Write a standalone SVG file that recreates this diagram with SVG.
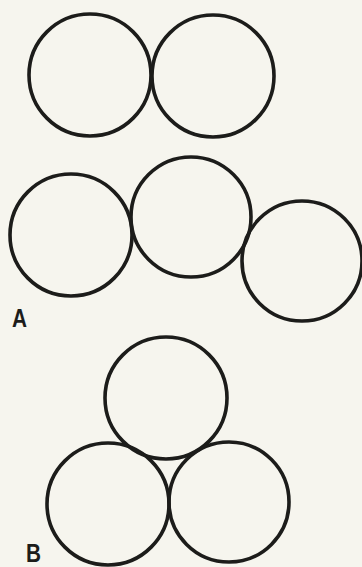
<svg xmlns="http://www.w3.org/2000/svg" width="362" height="567" viewBox="0 0 362 567">
<style>
.c{fill:none;stroke:#1c1c1a;stroke-width:3.6}
.lbl{font-family:"Liberation Sans",Arial,sans-serif;font-weight:bold;font-size:26px;fill:#1c1c1a}
</style>
<rect width="362" height="567" fill="#f6f5ee"/>
<g id="A-top-left"><circle class="c" cx="90" cy="75" r="61"/></g>
<g id="A-top-right"><circle class="c" cx="213" cy="76" r="61"/></g>
<g id="A-row-left"><circle class="c" cx="71" cy="235" r="61"/></g>
<g id="A-row-mid"><circle class="c" cx="191" cy="217" r="60"/></g>
<g id="A-row-right"><circle class="c" cx="302" cy="261" r="60"/></g>
<g id="B-top"><circle class="c" cx="166" cy="398" r="61"/></g>
<g id="B-left"><circle class="c" cx="108" cy="504" r="61"/></g>
<g id="B-right"><circle class="c" cx="229" cy="502" r="60"/></g>
<g id="connectors"></g>
<text class="lbl" x="12" y="327" transform="translate(12 327) scale(0.8 1) translate(-12 -327)">A</text>
<text class="lbl" x="26" y="562" transform="translate(26 562) scale(0.8 1) translate(-26 -562)">B</text>
</svg>
